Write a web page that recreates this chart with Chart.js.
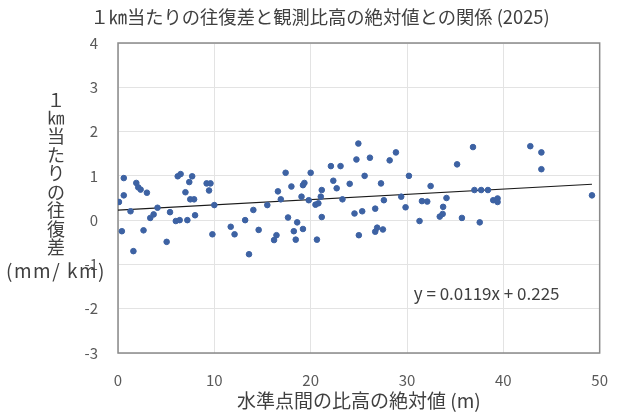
<!DOCTYPE html>
<html>
<head>
<meta charset="utf-8">
<script src="https://cdn.jsdelivr.net/npm/chart.js@4"></script>
<style>
  html, body { margin: 0; padding: 0; background: #fff; }
</style>
</head>
<body>
<canvas id="chart" width="626" height="412"></canvas>
<script>
const FONT = "'Noto Sans CJK JP', 'Noto Sans', sans-serif";

const titleText = "１㎞当たりの往復差と観測比高の絶対値との関係 (2025)";
const xTitle = "水準点間の比高の絶対値 (m)";
const yTitleChars = ["１", "㎞", "当", "た", "り", "の", "往", "復", "差"];
const yTitleUnit = "(mm/ km)";

// 比高の絶対値 (m)
const heightDiff = [
  0.1, 0.6, 0.6, 0.4, 1.3, 1.6, 1.9, 2.1, 2.35, 2.65,
  3.0, 3.35, 3.7, 4.1, 5.05, 5.4, 6.0, 6.4, 6.2, 6.5,
  7.2, 7.0, 7.4, 7.7, 7.5, 7.9, 8.0, 9.2, 9.6, 9.45,
  10.0, 9.8, 11.7, 12.1, 13.2, 14.05, 13.6, 14.6, 15.5, 16.2,
  16.45, 16.6, 16.9, 17.4, 17.65, 18.0, 18.25, 18.45, 18.6, 19.05,
  19.2, 19.35, 19.2, 19.8, 20.0, 20.5, 20.8, 20.65, 21.05, 21.15,
  21.15, 22.1, 22.35, 22.7, 23.1, 23.3, 24.05, 24.55, 24.75, 24.95,
  25.0, 25.35, 25.6, 26.15, 26.7, 26.7, 26.9, 27.5, 27.3, 27.6,
  28.2, 28.85, 29.4, 29.85, 30.2, 31.3, 31.55, 32.1, 32.45, 33.4,
  33.7, 33.75, 34.1, 35.2, 35.7, 36.85, 37.0, 37.7, 38.4, 37.55,
  38.95, 39.4, 39.4, 42.8, 43.95, 43.95, 49.2
];

// 1km当たりの往復差 (mm/km)
const roundTrip = [
  0.41, 0.95, 0.56, -0.25, 0.2, -0.7, 0.84, 0.74, 0.69, -0.23,
  0.62, 0.05, 0.13, 0.28, -0.49, 0.18, -0.02, 0.0, 0.99, 1.04,
  0.0, 0.63, 0.86, 0.99, 0.47, 0.47, 0.11, 0.83, 0.83, 0.67,
  0.34, -0.32, -0.15, -0.32, 0.0, 0.23, -0.77, -0.22, 0.34, -0.45,
  -0.34, 0.65, 0.47, 1.07, 0.06, 0.76, -0.25, -0.44, -0.05, 0.53,
  0.79, 0.84, -0.2, 0.45, 1.07, 0.35, 0.38, -0.44, 0.53, 0.68,
  0.07, 1.22, 0.89, 0.72, 1.22, 0.47, 0.82, 0.15, 1.37, 1.73,
  -0.34, 0.2, 1.0, 1.41, 0.26, -0.26, -0.17, -0.21, 0.83, 0.45,
  1.35, 1.53, 0.53, 0.29, 1.0, -0.02, 0.43, 0.42, 0.77, 0.08,
  0.14, 0.3, 0.5, 1.26, 0.05, 1.65, 0.68, 0.68, 0.68, -0.05,
  0.45, 0.49, 0.41, 1.67, 1.53, 1.15, 0.56
];

// 近似直線 y = 0.0119x + 0.225
const slope = 0.0119;
const intercept = 0.225;
const trendLabel = "y = 0.0119x + 0.225";

const points = heightDiff.map((x, i) => ({ x: x, y: roundTrip[i] }));
const xMax = Math.max(...heightDiff);
const trend = [
  { x: 0, y: intercept },
  { x: xMax, y: slope * xMax + intercept }
];

// title, plot frame, vertical y title and equation text
const extras = {
  id: "extras",
  beforeDatasetsDraw(chart) {
    const { ctx, chartArea: a } = chart;
    ctx.save();
    ctx.strokeStyle = "#8a8a8a";
    ctx.lineWidth = 1.5;
    ctx.strokeRect(a.left, a.top, a.right - a.left, a.bottom - a.top);
    ctx.restore();
  },
  afterDraw(chart) {
    const { ctx, scales } = chart;
    ctx.save();
    ctx.fillStyle = "#404040";
    ctx.textAlign = "center";
    ctx.textBaseline = "middle";

    ctx.font = "18.3px " + FONT;
    ctx.fillText(titleText, 320, 17);

    let y = 100;
    yTitleChars.forEach((c, i) => {
      ctx.font = (c === "㎞" ? "17px " : "18px ") + FONT;
      ctx.fillText(c, 56, y);
      y += i === 0 ? 18 : 18.5;
    });
    ctx.font = "19px " + FONT;
    ctx.letterSpacing = "1.5px";
    ctx.fillText(yTitleUnit, 56, 271);
    ctx.letterSpacing = "0px";

    ctx.textAlign = "left";
    ctx.font = "17px " + FONT;
    ctx.fillText(trendLabel, scales.x.getPixelForValue(30.7), scales.y.getPixelForValue(-1.66));
    ctx.restore();
  }
};

new Chart(document.getElementById("chart"), {
  type: "scatter",
  data: {
    datasets: [
      {
        label: "往復差",
        data: points,
        backgroundColor: "#3d62a3",
        borderColor: "#3d62a3",
        pointRadius: 2.8,
        pointHoverRadius: 2.8
      },
      {
        type: "line",
        label: "近似",
        data: trend,
        borderColor: "#1a1a1a",
        borderWidth: 1.2,
        pointRadius: 0,
        fill: false
      }
    ]
  },
  options: {
    responsive: false,
    animation: false,
    devicePixelRatio: 1,
    layout: { padding: { left: 0, right: 19, top: 43, bottom: 0 } },
    plugins: {
      legend: { display: false },
      tooltip: { enabled: false },
      title: { display: false }
    },
    scales: {
      x: {
        type: "linear",
        min: 0,
        max: 50,
        ticks: { stepSize: 10, color: "#595959", font: { family: FONT, size: 15 }, padding: 18 },
        grid: { color: "#e3e3e3", drawTicks: false },
        border: { display: false },
        title: {
          display: true,
          text: xTitle,
          color: "#404040",
          font: { family: FONT, size: 19 },
          padding: { top: 0, bottom: 0 }
        },
        afterFit(scale) { scale.height = 59; }
      },
      y: {
        min: -3,
        max: 4,
        ticks: { stepSize: 1, color: "#595959", font: { family: FONT, size: 15 }, padding: 20 },
        grid: { color: "#e3e3e3", drawTicks: false },
        border: { display: false },
        afterFit(scale) { scale.width = 118; }
      }
    }
  },
  plugins: [extras]
});
</script>
</body>
</html>
